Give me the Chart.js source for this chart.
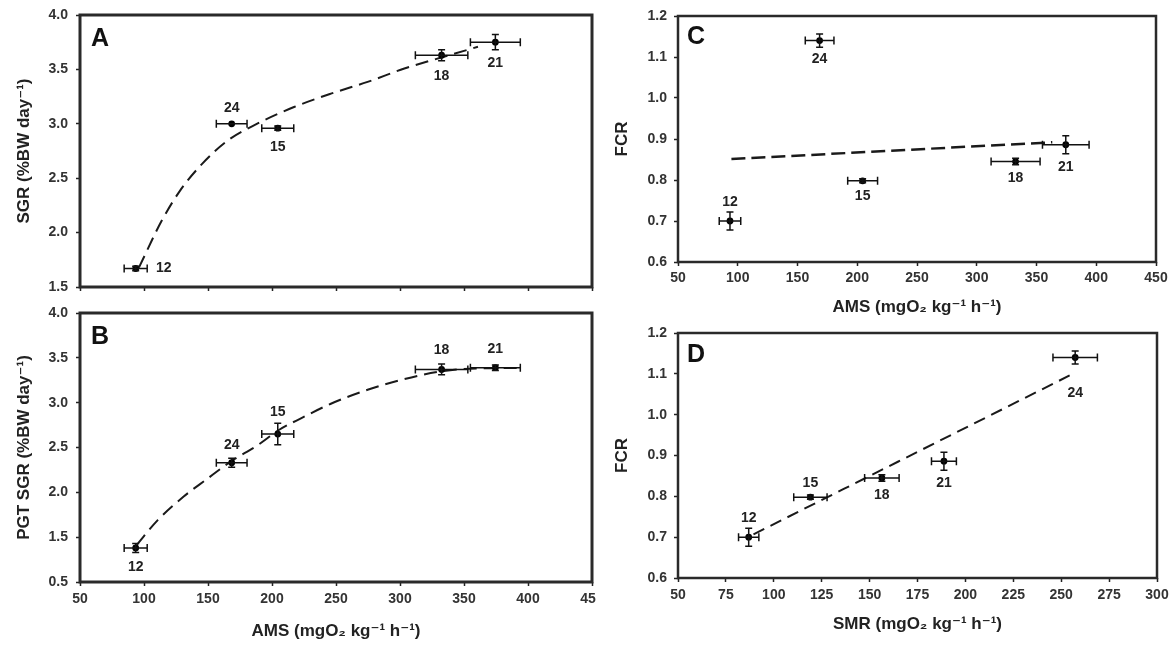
<!DOCTYPE html>
<html><head><meta charset="utf-8">
<script src="https://cdn.jsdelivr.net/npm/chart.js@4.4.1/dist/chart.umd.min.js"></script>
<style>
html,body{margin:0;padding:0;background:#fff;width:1174px;height:646px;overflow:hidden;}
canvas{position:absolute;}
</style></head><body>
<canvas id="cA" width="596" height="300" style="left:0;top:0"></canvas>
<canvas id="cB" width="596" height="348" style="left:0;top:298px"></canvas>
<canvas id="cC" width="574" height="320" style="left:600px;top:0"></canvas>
<canvas id="cD" width="574" height="326" style="left:600px;top:320px"></canvas>
<script>
// ---- data (order: 12, 15, 18, 21, 24 °C) ----
const tempLabels = ['12', '15', '18', '21', '24'];
const amsMean = [93.5, 204.5, 332.5, 374.5, 168.5];
const amsSE = [9, 12.5, 20.5, 19.5, 12];
const sgrMean = [1.67, 2.96, 3.63, 3.75, 3.00];
const sgrSE = [0.02, 0.02, 0.05, 0.07, 0.01];
const pgtSgrMean = [1.38, 2.65, 3.37, 3.39, 2.33];
const pgtSgrSE = [0.05, 0.12, 0.06, 0.03, 0.05];
const fcrMean = [0.70, 0.798, 0.845, 0.886, 1.14];
const fcrSE = [0.022, 0.005, 0.008, 0.022, 0.016];
const smrMean = [86.9, 119.1, 156.4, 188.8, 257.3];
const smrSE = [5.3, 8.7, 9.0, 6.5, 11.6];

// fitted curves
const fitA_x = [96.0, 113.8, 128.2, 145.4, 165.5, 188.5, 217.2, 246.0, 274.7, 303.4, 332.2, 360.9];
const fitA_y = [1.678, 2.108, 2.386, 2.632, 2.847, 3.001, 3.154, 3.277, 3.385, 3.508, 3.609, 3.708];
const fitB_x = [94.3, 110.9, 131.0, 148.3, 167.8, 188.5, 205.7, 223.0, 246.0, 274.7, 303.4, 332.2, 360.9, 392.5];
const fitB_y = [1.413, 1.693, 1.953, 2.139, 2.344, 2.523, 2.698, 2.828, 2.988, 3.144, 3.263, 3.349, 3.382, 3.386];
const fitC_x = [94.7, 363.2];
const fitC_y = [0.851, 0.892];
const fitD_x = [89.4, 254.4];
const fitD_y = [0.707, 1.096];

// tick labels
const sgrTicks = ['1.5', '2.0', '2.5', '3.0', '3.5', '4.0'];
const pgtTicks = ['0.5', '1.5', '2.0', '2.5', '3.0', '3.5', '4.0'];
const fcrTicks = ['0.6', '0.7', '0.8', '0.9', '1.0', '1.1', '1.2'];
const amsTicks = ['50', '100', '150', '200', '250', '300', '350', '400', '450'];
const smrTicks = ['50', '75', '100', '125', '150', '175', '200', '225', '250', '275', '300'];

// ---- styling / layout ----
const FONT = "'Liberation Sans', Arial, 'DejaVu Sans', sans-serif";
const amsTitle = 'AMS (mgO\u2082 kg\u207B\u00B9 h\u207B\u00B9)';
const smrTitle = 'SMR (mgO\u2082 kg\u207B\u00B9 h\u207B\u00B9)';

function makePlugins(p) {
  return [{
    id: 'errbars',
    afterDatasetsDraw(chart) {
      const {ctx, scales: {x, y}} = chart;
      ctx.save();
      ctx.strokeStyle = '#111';
      ctx.lineWidth = 1.5;
      p.px.forEach((xv, i) => {
        const yv = p.py[i];
        const cx = x.getPixelForValue(xv), cy = y.getPixelForValue(yv);
        const xl = x.getPixelForValue(xv - p.xe[i]), xr = x.getPixelForValue(xv + p.xe[i]);
        ctx.beginPath();
        ctx.moveTo(xl, cy); ctx.lineTo(xr, cy);
        ctx.moveTo(xl, cy - 4); ctx.lineTo(xl, cy + 4);
        ctx.moveTo(xr, cy - 4); ctx.lineTo(xr, cy + 4);
        const yt = y.getPixelForValue(yv + p.ye[i]), yb = y.getPixelForValue(yv - p.ye[i]);
        if (Math.abs(yb - yt) > 3) {
          ctx.moveTo(cx, yt); ctx.lineTo(cx, yb);
          ctx.moveTo(cx - 3.5, yt); ctx.lineTo(cx + 3.5, yt);
          ctx.moveTo(cx - 3.5, yb); ctx.lineTo(cx + 3.5, yb);
        }
        ctx.stroke();
        // labels
        ctx.fillStyle = '#222';
        ctx.font = 'bold 14px ' + FONT;
        ctx.textAlign = 'center';
        ctx.textBaseline = 'middle';
        ctx.fillText(tempLabels[i], cx + p.lab[i][0], cy + p.lab[i][1]);
      });
      // frame + panel letter
      const a = chart.chartArea;
      ctx.lineWidth = p.frameW;
      ctx.strokeStyle = '#2a2a2a';
      ctx.strokeRect(a.left, a.top, a.right - a.left, a.bottom - a.top);
      ctx.fillStyle = '#111';
      ctx.font = 'bold 25px ' + FONT;
      ctx.textAlign = 'left';
      ctx.textBaseline = 'top';
      ctx.fillText(p.letter, a.left + p.letterOff[0], a.top + p.letterOff[1]);
      ctx.restore();
    }
  }];
}

function makePanel(id, p) {
  const axisCommon = (opt) => ({
    type: 'linear',
    min: opt.min, max: opt.max,
    grid: {display: true, drawOnChartArea: false, drawTicks: true, tickLength: 4, tickWidth: 1.5, tickColor: '#222'},
    border: {display: false},
    ticks: {
      stepSize: opt.step,
      autoSkip: false,
      maxRotation: 0,
      padding: opt.pad,
      color: '#333',
      font: {family: FONT, size: 14, weight: 'bold'},
      callback: (v, i) => opt.labels ? opt.labels[i] : ''
    },
    title: opt.title ? {display: true, text: opt.title, color: '#222',
      font: {family: FONT, size: 17, weight: 'bold'}, padding: opt.titlePad} : {display: false},
    afterFit: (s) => {
      if (opt.h !== undefined) { s.height = opt.h; }
      if (opt.w !== undefined) { s.width = opt.w; }
      s.paddingLeft = 0; s.paddingRight = 0; s.paddingTop = 0; s.paddingBottom = 0;
    }
  });
  return new Chart(document.getElementById(id), {
    type: 'scatter',
    data: {
      datasets: [
        {data: p.fx.map((x, i) => ({x, y: p.fy[i]})), showLine: true, pointRadius: 0,
          borderColor: '#1a1a1a', borderWidth: p.dashW, borderDash: p.dash, tension: 0.4,
          cubicInterpolationMode: 'monotone', fill: false, order: 2},
        {data: p.px.map((x, i) => ({x, y: p.py[i]})), showLine: false, pointRadius: 3.4,
          pointBackgroundColor: '#000', pointBorderColor: '#000', pointBorderWidth: 0, order: 1}
      ]
    },
    options: {
      responsive: false, animation: false, devicePixelRatio: 1,
      layout: {padding: p.layoutPad},
      plugins: {legend: {display: false}, tooltip: {enabled: false}},
      events: [],
      scales: {x: axisCommon(p.xAxis), y: axisCommon(p.yAxis)}
    },
    plugins: makePlugins(p)
  });
}

makePanel('cA', {
  px: amsMean, py: sgrMean, xe: amsSE, ye: sgrSE, fx: fitA_x, fy: fitA_y,
  dash: [13, 7], dashW: 2, frameW: 3, letter: 'A', letterOff: [11, 12],
  lab: [[28, 0], [0, 19], [0, 21], [0, 21], [0, -16]],
  layoutPad: {left: 0, top: 15, right: 2, bottom: 0},
  xAxis: {min: 50, max: 450, step: 50, labels: null, h: 13, pad: 0},
  yAxis: {min: 1.5, max: 4.0, step: 0.5, labels: sgrTicks, w: 80, pad: 8,
    title: 'SGR (%BW day\u207B\u00B9)', titlePad: {top: 14, bottom: 0}}
});
makePanel('cB', {
  px: amsMean, py: pgtSgrMean, xe: amsSE, ye: pgtSgrSE, fx: fitB_x, fy: fitB_y,
  dash: [13, 7], dashW: 2, frameW: 3, letter: 'B', letterOff: [11, 12],
  lab: [[0, 19], [0, -22], [0, -19], [0, -19], [0, -18]],
  layoutPad: {left: 0, top: 15, right: 2, bottom: 0},
  xAxis: {min: 50, max: 450, step: 50, labels: amsTicks, h: 64, pad: 5,
    title: amsTitle, titlePad: {top: 0, bottom: 4}},
  yAxis: {min: 1.0, max: 4.0, step: 0.5, labels: pgtTicks, w: 80, pad: 8,
    title: 'PGT SGR (%BW day\u207B\u00B9)', titlePad: {top: 14, bottom: 0}}
});
makePanel('cC', {
  px: amsMean, py: fcrMean, xe: amsSE, ye: fcrSE, fx: fitC_x, fy: fitC_y,
  dash: [14, 6], dashW: 2.5, frameW: 2.5, letter: 'C', letterOff: [9, 9],
  lab: [[0, -19], [0, 15], [0, 17], [0, 22], [0, 19]],
  layoutPad: {left: 0, top: 16, right: 18, bottom: 0},
  xAxis: {min: 50, max: 450, step: 50, labels: amsTicks, h: 58, pad: 4,
    title: amsTitle, titlePad: {top: 0, bottom: 2}},
  yAxis: {min: 0.6, max: 1.2, step: 0.1, labels: fcrTicks, w: 78, pad: 7,
    title: 'FCR', titlePad: {top: 12, bottom: 0}}
});
makePanel('cD', {
  px: smrMean, py: fcrMean, xe: smrSE, ye: fcrSE, fx: fitD_x, fy: fitD_y,
  dash: [12, 7], dashW: 2, frameW: 2.5, letter: 'D', letterOff: [9, 10],
  lab: [[0, -19], [0, -14], [0, 17], [0, 22], [0, 36]],
  layoutPad: {left: 0, top: 13, right: 17, bottom: 0},
  xAxis: {min: 50, max: 300, step: 25, labels: smrTicks, h: 68, pad: 5,
    title: smrTitle, titlePad: {top: 0, bottom: 11}},
  yAxis: {min: 0.6, max: 1.2, step: 0.1, labels: fcrTicks, w: 78, pad: 7,
    title: 'FCR', titlePad: {top: 12, bottom: 0}}
});
</script>
</body></html>
